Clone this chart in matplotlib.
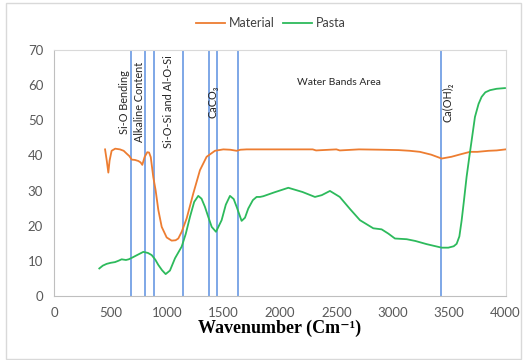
import matplotlib
matplotlib.use("Agg")
import matplotlib.pyplot as plt
from matplotlib.patches import Rectangle

# -------------------------
# DATA
# -------------------------
material_x = [450, 465, 479, 490, 508, 540, 582, 615, 641, 665, 686, 715, 745, 765, 780,
              800, 824, 840, 855, 877, 898, 922, 952, 996, 1040, 1075, 1099, 1129, 1173,
              1232, 1291, 1350, 1424, 1498, 1560, 1616, 1650, 1705, 1900, 2100, 2290,
              2320, 2500, 2530, 2700, 2900, 3050, 3150, 3240, 3340, 3433, 3520, 3600,
              3684, 3750, 3850, 3920, 4000]
material_y = [41.7, 38.5, 35.1, 38.5, 41.3, 41.9, 41.7, 41.3, 40.5, 39.8, 38.8, 38.7, 38.4,
              38.0, 37.3, 39.5, 40.9, 40.8, 39.5, 33.9, 30.1, 24.5, 19.7, 16.7, 15.8,
              15.9, 16.4, 18.3, 22.1, 29.2, 35.8, 39.6, 41.3, 41.7, 41.6, 41.3, 41.6,
              41.7, 41.7, 41.7, 41.7, 41.4, 41.7, 41.4, 41.7, 41.6, 41.5, 41.3, 41.0,
              40.2, 39.1, 39.6, 40.3, 41.0, 41.0, 41.3, 41.4, 41.7]

pasta_x = [399, 430, 464, 500, 538, 570, 597, 615, 635, 660, 686, 740, 789, 830, 863,
           895, 922, 955, 987, 1025, 1070, 1129, 1165, 1203, 1240, 1276, 1305, 1335,
           1365, 1395, 1433, 1483, 1520, 1557, 1590, 1616, 1660, 1690, 1719, 1760,
           1793, 1823, 1852, 1950, 2074, 2200, 2310, 2370, 2443, 2530, 2620, 2709,
           2827, 2901, 2960, 3019, 3123, 3200, 3300, 3433, 3492, 3540, 3566, 3590,
           3610, 3630, 3654, 3680, 3699, 3728, 3760, 3787, 3820, 3861, 3920, 3994]
pasta_y = [7.9, 8.7, 9.2, 9.5, 9.7, 10.1, 10.5, 10.4, 10.3, 10.5, 10.9, 11.8, 12.6, 12.3,
           11.7, 10.4, 8.9, 7.4, 6.3, 7.3, 10.8, 14.1, 17.7, 22.6, 26.8, 28.5, 27.7,
           25.4, 22.5, 19.7, 18.3, 21.6, 26.0, 28.5, 27.6, 25.4, 21.4, 22.3, 24.9, 27.3,
           28.2, 28.2, 28.4, 29.5, 30.8, 29.6, 28.2, 28.7, 29.9, 28.2, 24.8, 21.6,
           19.3, 19.0, 17.8, 16.4, 16.2, 15.7, 14.8, 13.8, 13.8, 14.2, 14.9, 17.0,
           21.5, 27.0, 33.9, 40.0, 44.3, 50.9, 54.6, 56.6, 57.9, 58.5, 58.9, 59.1]

band_x = [680, 800, 885, 1140, 1375, 1445, 1625, 3430]

band_labels = ["Si-O Bending", "Alkaline Content", "Si-O-Si and Al-O-Si",
               "CaCO\u2083", "Ca(OH)\u2082"]
band_label_x = [618, 751, 1010, 1409, 3492]
water_label = "Water Bands Area"

x_ticks = [0, 500, 1000, 1500, 2000, 2500, 3000, 3500, 4000]
y_ticks = [0, 10, 20, 30, 40, 50, 60, 70]

# -------------------------
# PLOT
# -------------------------
plt.rcParams["font.family"] = ["Lato", "DejaVu Sans"]

fig = plt.figure(figsize=(5.23, 3.6), dpi=100)
ax = fig.add_axes([0.1038, 0.177, 0.863, 0.685])

for bx in band_x:
    ax.axvline(bx, color="#5B8FE0", lw=1.1, zorder=1)

ax.plot(material_x, material_y, color="#ED7D31", lw=1.3, label="Material", zorder=3)
ax.plot(pasta_x, pasta_y, color="#2DBA5C", lw=1.3, label="Pasta", zorder=3)

for lab, lx in zip(band_labels, band_label_x):
    ax.text(lx, 55.2, lab, rotation=90, ha="center", va="center",
            fontsize=7.8, color="#262626")
ax.text(2523, 60.8, water_label, ha="center", va="center", fontsize=7.5, color="#262626")

ax.set_xlim(0, 4000)
ax.set_ylim(0, 70)
ax.set_xticks(x_ticks)
ax.set_yticks(y_ticks)
ax.tick_params(length=0, labelsize=9.5, labelcolor="#595959")
ax.tick_params(axis="x", pad=8)
ax.tick_params(axis="y", pad=8)
for s in ax.spines.values():
    s.set_color("#D9D9D9")
ax.spines["left"].set_color("#BFBFBF")
ax.spines["bottom"].set_color("#BFBFBF")

ax.set_xlabel("Wavenumber (Cm\u207b\u00b9)", family=["Liberation Serif", "DejaVu Serif"],
              fontweight="bold", fontsize=13, labelpad=0)

fig.legend(loc="center", bbox_to_anchor=(0.518, 0.936), ncol=2, frameon=False,
           fontsize=9, handlelength=2.3, columnspacing=0.7, handletextpad=0.3,
           labelcolor="#404040")

fig.add_artist(Rectangle((0.011, 0.004), 0.985, 0.988, transform=fig.transFigure,
                         fill=False, edgecolor="#D9D9D9", lw=1))

fig.savefig("out.png", dpi=100)
